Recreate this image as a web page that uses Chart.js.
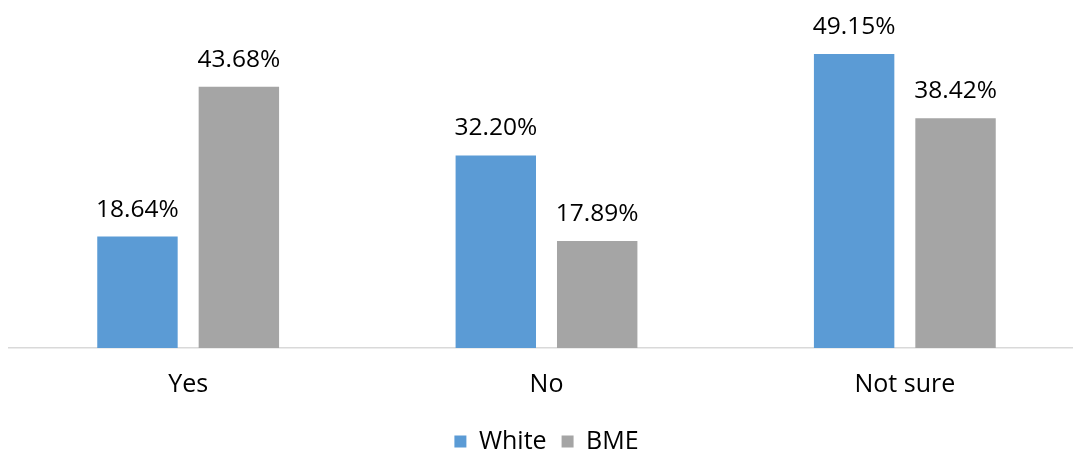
<!DOCTYPE html>
<html>
<head>
<meta charset="utf-8">
<title>White vs BME</title>
<script src="https://cdn.jsdelivr.net/npm/chart.js@4.4.1/dist/chart.umd.min.js"></script>
<style>
  body { margin: 0; overflow: hidden; background: #fff; }
  #wrap { width: 1084px; height: 452px; overflow: hidden; }
</style>
</head>
<body>
<div id="wrap"><canvas id="answerChart" width="1084" height="468"></canvas></div>
<script>
// chart data
const categories = ['Yes', 'No', 'Not sure'];
const whiteValues = [18.64, 32.20, 49.15];
const bmeValues = [43.68, 17.89, 38.42];
const seriesNames = ['White', 'BME'];
const yMax = 58.2; // hidden value axis top

const FONT = "'Open Sans', sans-serif";

// draws the percentage above every bar
const valueLabels = {
  id: 'valueLabels',
  afterDatasetsDraw(chart) {
    const ctx = chart.ctx;
    ctx.save();
    ctx.font = "24.5px " + FONT;
    ctx.fillStyle = '#000';
    ctx.textAlign = 'center';
    ctx.textBaseline = 'alphabetic';
    chart.data.datasets.forEach((ds, i) => {
      chart.getDatasetMeta(i).data.forEach((bar, j) => {
        ctx.fillText(ds.data[j].toFixed(2) + '%', bar.x, bar.y - 20);
      });
    });
    ctx.restore();
  }
};

new Chart(document.getElementById('answerChart'), {
  type: 'bar',
  data: {
    labels: categories,
    datasets: [
      { label: seriesNames[0], data: whiteValues, backgroundColor: '#5B9BD5' },
      { label: seriesNames[1], data: bmeValues, backgroundColor: '#A5A5A5' }
    ]
  },
  options: {
    responsive: false,
    animation: false,
    categoryPercentage: 0.566,
    barPercentage: 0.793,
    layout: { padding: { left: 9, right: 0, top: 0, bottom: 4 } },
    scales: {
      y: { display: false, min: 0, max: yMax },
      x: {
        grid: { display: false },
        border: { color: '#D9D9D9', width: 1.5 },
        ticks: { color: '#000', font: { family: FONT, size: 25 }, padding: 14 }
      }
    },
    plugins: {
      legend: {
        position: 'bottom',
        labels: {
          color: '#000',
          font: { family: FONT, size: 25 },
          boxWidth: 12,
          boxHeight: 12,
          padding: 15
        }
      },
      tooltip: { enabled: false }
    }
  },
  plugins: [valueLabels]
});
</script>
</body>
</html>
